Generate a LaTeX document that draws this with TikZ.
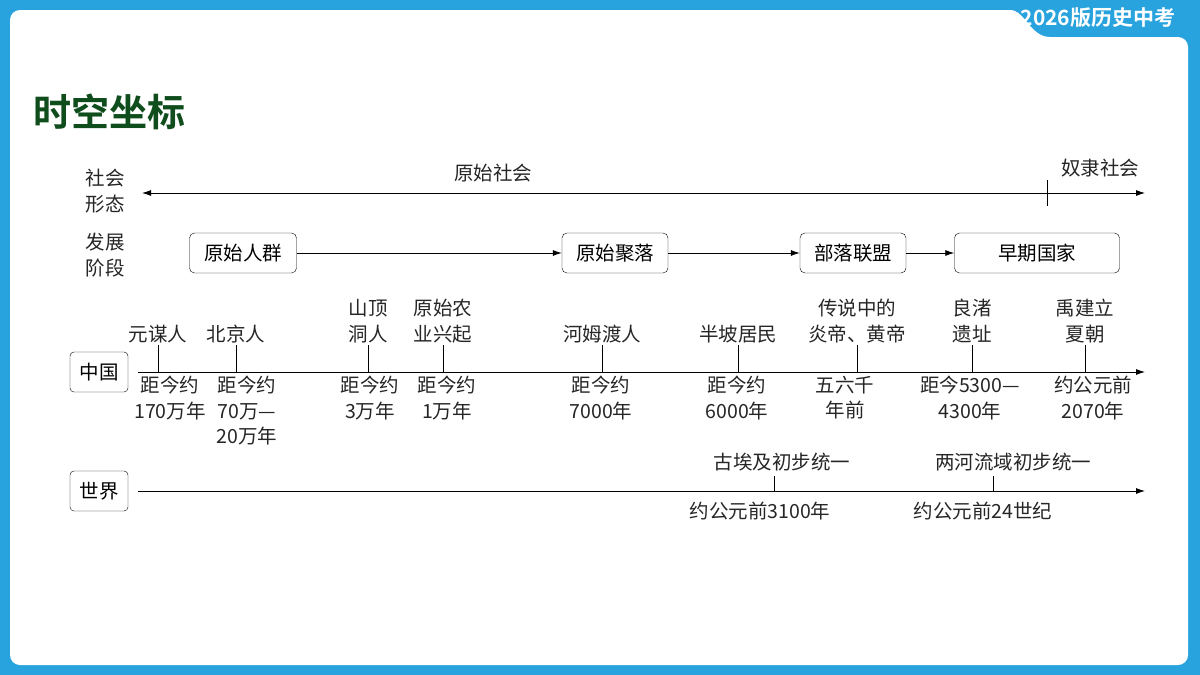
\documentclass[tikz,border=0pt]{standalone}
\usepackage{fontspec}
\setmainfont{Noto Sans CJK SC}
\newfontfamily\cjkb{Noto Sans CJK SC Bold}
\usetikzlibrary{arrows.meta}
\definecolor{frameblue}{HTML}{29A3DE}
\definecolor{titlegreen}{HTML}{0F4D1C}
\begin{document}
\begin{tikzpicture}[x=1pt,y=-1pt,
  txt/.style={font=\fontsize{19.5}{25.5}\selectfont,align=center,inner sep=0pt,text=black!85},
  stage/.style={draw,rounded corners=5pt,font=\fontsize{19.5}{22}\selectfont,minimum height=40pt,inner sep=0pt},
  lbox/.style={draw,rounded corners=4pt,font=\fontsize{19.5}{22}\selectfont,minimum width=58pt,minimum height=40pt,inner sep=0pt},
  arr/.style={-{Latex[length=9pt,width=6pt]},line width=0.8pt},
  tick/.style={line width=0.7pt}]
\useasboundingbox (0,0) rectangle (1200,675);
\fill[frameblue] (0,0) rectangle (1200,675);
\fill[white,rounded corners=10pt] (10,665) -- (10,10) -- (1000,10) [sharp corners] .. controls (1025,10) and (1030,37) .. (1050,37) [rounded corners=10pt] -- (1188,37) -- (1188,665) -- cycle;
\node[font=\cjkb\fontsize{21}{24}\selectfont,text=white] (brand) at (1098,18) {2026版历史中考};
\node[font=\cjkb\fontsize{38}{42}\selectfont,text=titlegreen] (title) at (110,112) {时空坐标};
% social forms
\node[txt] (shl) at (105,191) {社会\\形态};
\coordinate (sa) at (142,193); \coordinate (sb) at (1145,193);
\draw[{Latex[length=9pt,width=6pt]}-{Latex[length=9pt,width=6pt]},line width=0.8pt] (sa) -- (sb);
\coordinate (t1) at (1047,180); \coordinate (t2) at (1047,206);
\draw[tick] (t1) -- (t2);
\node[txt] (ys) at (493,173) {原始社会};
\node[txt] (ns) at (1100,168) {奴隶社会};
% stages
\node[txt] (fzl) at (105,255) {发展\\阶段};
\node[stage,minimum width=107pt] (s1) at (243,253) {原始人群};
\node[stage,minimum width=106pt] (s2) at (615,253) {原始聚落};
\node[stage,minimum width=106pt] (s3) at (853,253) {部落联盟};
\node[stage,minimum width=165pt] (s4) at (1037,253) {早期国家};
\draw[arr] (s1) -- (s2); \draw[arr] (s2) -- (s3); \draw[arr] (s3) -- (s4);
% China
\node[lbox] (cn) at (99,372) {中国};
\coordinate (ca) at (138,372); \coordinate (cb) at (1145,372);
\draw[arr] (ca) -- (cb);
\foreach \x/\up/\uy/\dx/\down/\n in {
 158/元谋人/330/170/距今约\\170万年/a,
 236/北京人/330/247/距今约\\70万—\\20万年/b,
 368/山顶\\洞人/318/370/距今约\\3万年/c,
 443/原始农\\业兴起/320/447/距今约\\1万年/d,
 602/河姆渡人/328/601/距今约\\7000年/e,
 738/半坡居民/328/737/距今约\\6000年/f,
 857/传说中的\\炎帝、黄帝/320/845/五六千\\年前/g,
 972/良渚\\遗址/320/970/距今5300—\\4300年/h,
 1085/禹建立\\夏朝/320/1093/约公元前\\2070年/i}{
  \coordinate (u\n) at (\x,345); \coordinate (v\n) at (\x,372);
  \draw[tick] (u\n) -- (v\n);
  \node[txt,anchor=south] (up\n) at (\x,343) {\up};
  \node[txt,anchor=north] (dn\n) at (\dx,376) {\down};
}
% World
\node[lbox] (wd) at (99,491) {世界};
\coordinate (wa) at (138,491); \coordinate (wb) at (1145,491);
\draw[arr] (wa) -- (wb);
\coordinate (w1) at (774,476); \coordinate (w1b) at (774,491);
\coordinate (w2) at (993,476); \coordinate (w2b) at (993,491);
\draw[tick] (w1) -- (w1b); \draw[tick] (w2) -- (w2b);
\node[txt] (ge) at (782,462) {古埃及初步统一};
\node[txt] (lh) at (1013,462) {两河流域初步统一};
\node[txt] (ge2) at (760,511) {约公元前3100年};
\node[txt] (lh2) at (983,511) {约公元前24世纪};
\end{tikzpicture}
\end{document}
